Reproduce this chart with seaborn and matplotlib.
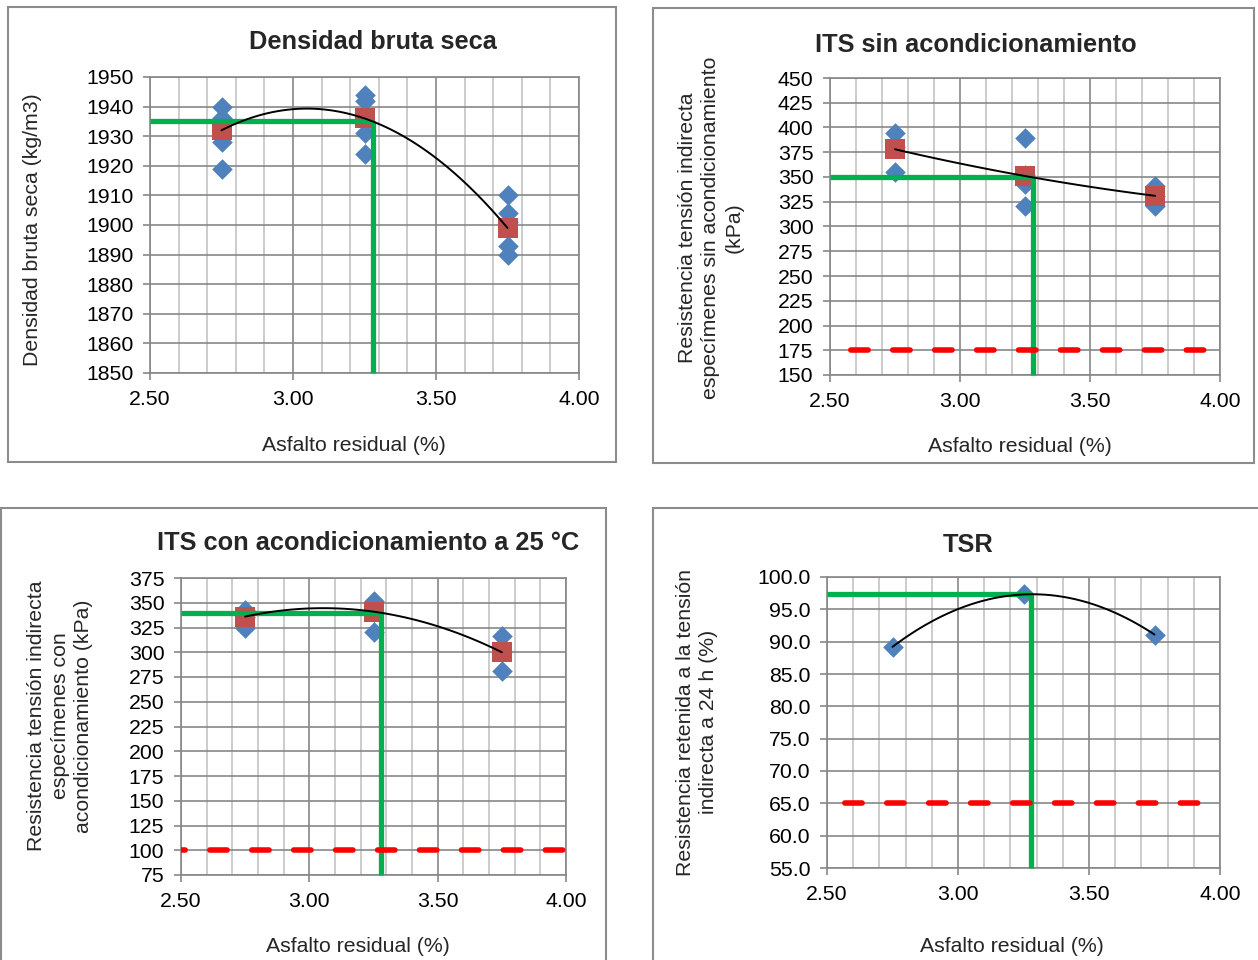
import numpy as np
import pandas as pd
import matplotlib
matplotlib.use("Agg")
import matplotlib.pyplot as plt
import seaborn as sns
from matplotlib.ticker import MultipleLocator, FormatStrFormatter
from matplotlib.patches import Rectangle

sns.set_theme(style="white")
plt.rcParams['font.family'] = ['Liberation Sans', 'DejaVu Sans']
plt.rcParams['lines.scale_dashes'] = False

# ---------------- data ----------------
asfalto = [2.75, 3.25, 3.75]

dens_x = [2.75, 2.75, 2.75, 2.75, 3.25, 3.25, 3.25, 3.25, 3.75, 3.75, 3.75, 3.75, 3.75]
dens_y = [1940, 1936, 1928, 1919, 1944, 1942, 1931, 1924, 1910, 1904, 1901, 1893, 1890]
dens_mean = [1932, 1936, 1899]
dens_opt = (3.28, 1935)

its_s_x = [2.75, 2.75, 2.75, 3.25, 3.25, 3.25, 3.25, 3.75, 3.75, 3.75]
its_s_y = [394, 380, 355, 389, 352, 343, 321, 341, 331, 321]
its_s_mean = [378, 351, 331]
its_s_opt = (3.28, 350)
its_s_min = 175

its_c_x = [2.75, 2.75, 2.75, 3.25, 3.25, 3.25, 3.75, 3.75, 3.75]
its_c_y = [343, 336, 324, 352, 341, 320, 316, 300, 281]
its_c_mean = [336, 341, 300]
its_c_opt = (3.28, 340)
its_c_min = 100

tsr_y = [89.2, 97.3, 91.1]
tsr_opt = (3.28, 97.3)
tsr_min = 65

x_ticks = [2.50, 3.00, 3.50, 4.00]

W, H = 1258, 960
BLUE = '#4F81BD'
RED = '#C0504D'
GREEN = '#00B050'
MAJ = '#878787'
MIN = '#C3C3C3'
FS = 15.3

fig = plt.figure(figsize=(W / 100, H / 100), dpi=100)


def add_ax(l, r, t, b):
    return fig.add_axes([l / W, 1 - b / H, (r - l) / W, (b - t) / H])


def frame(x0, y0, x1, y1):
    fig.add_artist(Rectangle((x0 / W, 1 - y1 / H), (x1 - x0) / W, (y1 - y0) / H,
                             transform=fig.transFigure, fill=False,
                             ec='#8C8C8C', lw=1.5, zorder=0))


def style(ax, ylim, ystep, yfmt):
    ax.set_xlim(x_ticks[0], x_ticks[-1])
    ax.set_ylim(*ylim)
    ax.set_xticks(x_ticks)
    ax.xaxis.set_major_formatter(FormatStrFormatter('%.2f'))
    ax.xaxis.set_minor_locator(MultipleLocator(0.1))
    ax.yaxis.set_major_locator(MultipleLocator(ystep))
    ax.yaxis.set_major_formatter(FormatStrFormatter(yfmt))
    ax.grid(which='minor', axis='x', color=MIN, lw=1.2, zorder=0)
    ax.grid(which='major', axis='both', color=MAJ, lw=1.2, zorder=0)
    ax.set_axisbelow(True)
    for s in ax.spines.values():
        s.set_color(MAJ)
        s.set_linewidth(1.2)
    ax.tick_params(which='major', direction='out', length=5, width=1.2, color=MAJ,
                   labelsize=FS, pad=7, left=True, bottom=True, labelcolor='black')
    ax.tick_params(which='minor', length=0)
    ax.set_xlabel('')
    ax.set_ylabel('')


def points(ax, xs, ys, mx=None, my=None):
    sns.scatterplot(x=xs, y=ys, marker='D', s=110, color=BLUE, linewidth=0, ax=ax,
                    zorder=3, clip_on=False)
    if mx is not None:
        sns.scatterplot(x=mx, y=my, marker='s', s=205, color=RED, linewidth=0, ax=ax,
                        zorder=4, clip_on=False)


def optimum(ax, opt, ymin):
    ax.plot([x_ticks[0], opt[0]], [opt[1], opt[1]], color=GREEN, lw=3.8, zorder=5,
            solid_capstyle='butt')
    ax.plot([opt[0], opt[0]], [opt[1], ymin], color=GREEN, lw=3.8, zorder=5,
            solid_capstyle='butt', clip_on=False)


def trend(ax, ys):
    coef = np.polyfit(asfalto, ys, 2)
    xx = np.linspace(asfalto[0], asfalto[-1], 120)
    sns.lineplot(x=xx, y=np.polyval(coef, xx), color='black', lw=1.4, ax=ax, zorder=6)


def limit(ax, y, offset_px):
    lw = 4.0
    on, period = 12.5, 30.2
    g = offset_px * 0.72 + lw / 2
    off = (period - g) % period
    ax.plot([x_ticks[0], x_ticks[-1]], [y, y], color='#FF0000', lw=lw, zorder=5,
            dash_capstyle='round', linestyle=(off, (on, period - on)))


def texts(title, tpos, xlpos, ylabel, ylpos):
    fig.text(tpos[0] / W, 1 - tpos[1] / H, title, ha='center', va='center',
             fontsize=18.3, fontweight='bold')
    fig.text(xlpos[0] / W, 1 - xlpos[1] / H, 'Asfalto residual (%)', ha='center',
             va='center', fontsize=FS)
    fig.text(ylpos[0] / W, 1 - ylpos[1] / H, ylabel, ha='center', va='center',
             rotation=90, fontsize=FS, multialignment='center', linespacing=1.3)


# ---- chart 1 ----
frame(8, 7, 616, 462)
ax1 = add_ax(150, 579, 77, 373)
points(ax1, dens_x, dens_y, asfalto, dens_mean)
optimum(ax1, dens_opt, 1850)
trend(ax1, dens_mean)
style(ax1, (1850, 1950), 10, '%d')
texts('Densidad bruta seca', (373, 42), (354, 445),
      'Densidad bruta seca (kg/m3)', (33, 230))

# ---- chart 2 ----
frame(653, 8, 1254, 463)
ax2 = add_ax(830, 1220, 78, 375)
points(ax2, its_s_x, its_s_y, asfalto, its_s_mean)
optimum(ax2, its_s_opt, 150)
limit(ax2, its_s_min, 18)
trend(ax2, its_s_mean)
style(ax2, (150, 450), 25, '%d')
texts('ITS sin acondicionamiento', (976, 45), (1020, 447),
      'Resistencia tensión indirecta\nespecímenes sin acondicionamiento\n(kPa)', (711, 228))

# ---- chart 3 ----
frame(0.5, 508, 606, 975)
ax3 = add_ax(181, 566, 578, 875)
points(ax3, its_c_x, its_c_y, asfalto, its_c_mean)
optimum(ax3, its_c_opt, 75)
limit(ax3, its_c_min, 26)
trend(ax3, its_c_mean)
style(ax3, (75, 375), 25, '%d')
texts('ITS con acondicionamiento a 25 °C', (368, 543), (358, 946),
      'Resistencia tensión indirecta\nespecímenes con\nacondicionamiento (kPa)', (60, 716))

# ---- chart 4 ----
frame(653, 508, 1275, 975)
ax4 = add_ax(827, 1220, 577, 868)
points(ax4, asfalto, tsr_y)
optimum(ax4, tsr_opt, 55)
limit(ax4, tsr_min, 15)
trend(ax4, tsr_y)
style(ax4, (55, 100), 5, '%.1f')
texts('TSR', (968, 545), (1012, 946),
      'Resistencia retenida a la tensión\nindirecta a 24 h (%)', (697, 722))

fig.savefig('out.png', dpi=100)
